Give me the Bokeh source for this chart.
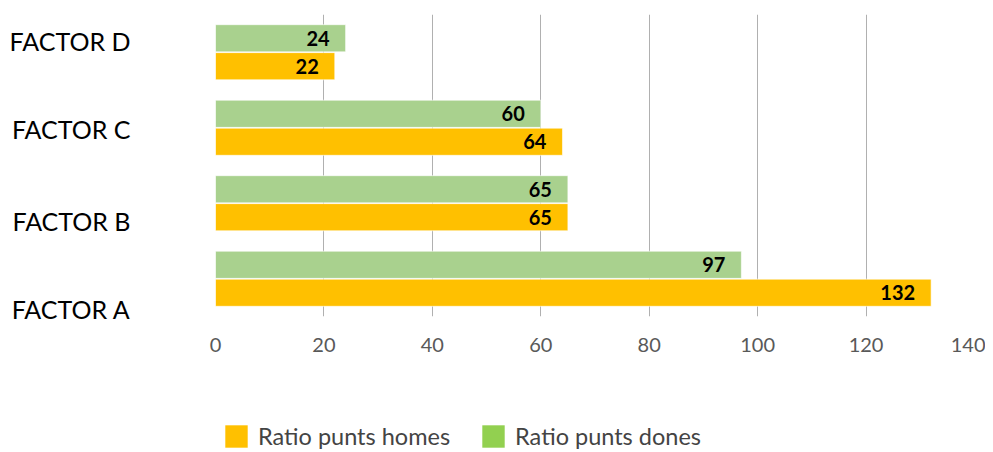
from bokeh.plotting import figure
from bokeh.layouts import column
from bokeh.models import (ColumnDataSource, Range1d, FixedTicker, Legend, LegendItem)
from bokeh.core.properties import value
from bokeh.embed import file_html
from bokeh.resources import INLINE

# ---- data ----
factors = ["FACTOR A", "FACTOR B", "FACTOR C", "FACTOR D"]
homes = [132, 65, 64, 22]
dones = [97, 65, 60, 24]
x_ticks = [0, 20, 40, 60, 80, 100, 120, 140]
# where the category labels sit (in category units, A = 0 ... D = 3)
cat_label_pos = [-0.40, 0.77, 1.98, 3.15]

series_names = ["Ratio punts homes", "Ratio punts dones"]
c_homes = "#FFC000"
c_dones = "#A9D18E"
c_dones_legend = "#92D050"
FONT = "Lato"

idx = list(range(len(factors)))
bar_h = 0.36
off = 0.185

src_h = ColumnDataSource(dict(y=[i - off for i in idx], v=homes, t=[str(v) for v in homes]))
src_d = ColumnDataSource(dict(y=[i + off for i in idx], v=dones, t=[str(v) for v in dones]))

p = figure(width=985, height=370, output_backend="svg", toolbar_location=None,
           x_range=Range1d(0, 140), y_range=Range1d(-0.5, 3.5),
           min_border_left=215, min_border_right=11, min_border_top=14, min_border_bottom=54)
p.outline_line_color = None
p.background_fill_color = "white"

p.hbar(y="y", right="v", left=0, height=bar_h, source=src_h, fill_color=c_homes,
       line_color="white", line_alpha=0.6, line_width=1)
p.hbar(y="y", right="v", left=0, height=bar_h, source=src_d, fill_color=c_dones,
       line_color="white", line_alpha=0.6, line_width=1)

for s in (src_h, src_d):
    p.text(x="v", y="y", text="t", source=s, text_align="right", text_baseline="middle",
           x_offset=-16, text_font=value(FONT), text_font_style="bold",
           text_font_size="20px", text_color="black")

# x axis
p.xaxis.ticker = FixedTicker(ticks=x_ticks)
p.xaxis.axis_line_color = None
p.xaxis.major_tick_line_color = None
p.xaxis.minor_tick_line_color = None
p.xaxis.major_tick_out = 0
p.xaxis.major_tick_in = 0
p.xaxis.major_label_standoff = 21
p.xaxis.major_label_text_font = FONT
p.xaxis.major_label_text_font_size = "20px"
p.xaxis.major_label_text_color = "#595959"

# y axis (category labels)
p.yaxis.ticker = FixedTicker(ticks=cat_label_pos)
p.yaxis.major_label_overrides = {float(pos): name for pos, name in zip(cat_label_pos, factors)}
p.yaxis.axis_line_color = None
p.yaxis.major_tick_line_color = None
p.yaxis.minor_tick_line_color = None
p.yaxis.major_tick_out = 0
p.yaxis.major_tick_in = 0
p.yaxis.major_label_standoff = 85
p.yaxis.major_label_text_font = FONT
p.yaxis.major_label_text_font_size = "25px"
p.yaxis.major_label_text_color = "black"

p.xgrid.ticker = FixedTicker(ticks=x_ticks)
p.xgrid.grid_line_color = "#B0B0B0"
p.xgrid.grid_line_width = 1
p.ygrid.grid_line_color = None

# ---- legend strip (separate figure under the chart) ----
pl = figure(width=985, height=80, output_backend="svg", toolbar_location=None,
            x_range=Range1d(0, 1), y_range=Range1d(100, 101),
            min_border=0, min_border_left=0, min_border_right=0,
            min_border_top=0, min_border_bottom=0)
pl.axis.visible = False
pl.grid.visible = False
pl.outline_line_color = None
# swatch renderers (their bars lie outside this strip's view)
lh = pl.hbar(y="y", right="v", left=0, height=bar_h, source=src_h,
             fill_color=c_homes, line_color=None)
ld = pl.hbar(y="y", right="v", left=0, height=bar_h, source=src_d,
             fill_color=c_dones_legend, line_color=None)

legend = Legend(items=[LegendItem(label=series_names[0], renderers=[lh]),
                       LegendItem(label=series_names[1], renderers=[ld])],
                orientation="horizontal", location=(7, 0),
                glyph_width=28, glyph_height=28, label_text_font=FONT,
                label_text_font_size="23.5px", label_standoff=8, spacing=29,
                padding=0, margin=0, border_line_color=None, background_fill_alpha=0,
                label_height=28)
pl.add_layout(legend, "center")

layout = column(p, pl, spacing=0)
open("out.html", "w").write(file_html(layout, INLINE))
